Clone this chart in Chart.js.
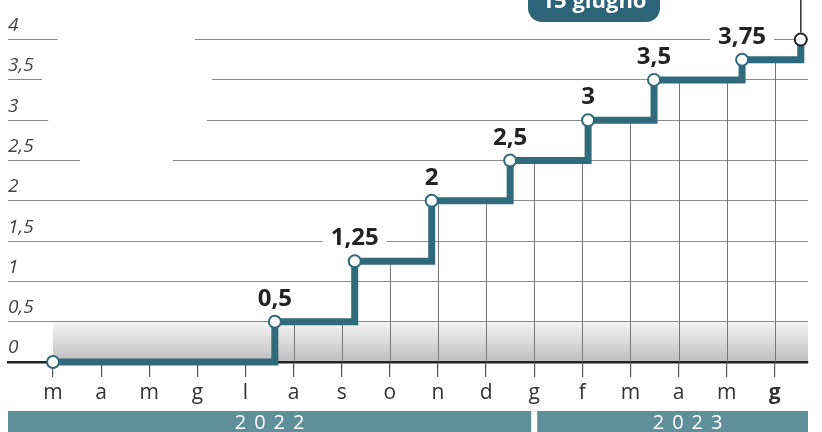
<!DOCTYPE html>
<html>
<head>
<meta charset="utf-8">
<script src="https://cdn.jsdelivr.net/npm/chart.js@4.4.0/dist/chart.umd.min.js"></script>
<style>
    html, body { margin: 0; padding: 0; background: #fff; }
    #wrap { width: 822px; height: 432px; }
</style>
</head>
<body>
<div id="wrap"><canvas id="chart" width="822" height="432"></canvas></div>
<script>
// Mesi sull'asse x: da marzo 2022 a giugno 2023
const monthLabels = ['m', 'a', 'm', 'g', 'l', 'a', 's', 'o', 'n', 'd', 'g', 'f', 'm', 'a', 'm', 'g'];
// Data di ogni decisione, in mesi dall'inizio di marzo 2022
const decisionMonths = [0, 4.61, 6.27, 7.87, 9.50, 11.12, 12.49, 14.32, 15.54];
const rates = [0, 0.5, 1.25, 2, 2.5, 3, 3.5, 3.75, 4];
const rateLabels = ['', '0,5', '1,25', '2', '2,5', '3', '3,5', '3,75', ''];
const yTicks = [0, 0.5, 1, 1.5, 2, 2.5, 3, 3.5, 4];
const yTickLabels = ['0', '0,5', '1', '1,5', '2', '2,5', '3', '3,5', '4'];
const years = ['2022', '2023'];
const badgeText = '15 giugno';

const TEAL = '#2f6a7d';

// Tratti bianchi che interrompono la griglia in alto a sinistra (valore, da mese, a mese)
const gridGaps = [[4, 0.10, 2.95], [3.5, -0.23, 3.30], [3, -0.10, 3.20], [2.5, 0.56, 2.49]];

// Valore del tasso in vigore a un certo mese
function rateAt(month) {
    let v = 0;
    decisionMonths.forEach((m, i) => { if (m <= month) v = rates[i]; });
    return v;
}

const decorPlugin = {
    id: 'decor',
    beforeDraw(chart) {
        const { ctx, chartArea, scales: { x, y } } = chart;
        ctx.save();
        ctx.fillStyle = '#fff';
        ctx.fillRect(0, 0, chart.width, chart.height);
        // fascia grigia sfumata tra 0 e 0,5
        const top = y.getPixelForValue(0.5);
        const bottom = y.getPixelForValue(0);
        const left = x.getPixelForValue(decisionMonths[0]);
        const grad = ctx.createLinearGradient(0, top, 0, bottom);
        grad.addColorStop(0, 'rgba(0,0,0,0.04)');
        grad.addColorStop(1, 'rgba(0,0,0,0.26)');
        ctx.fillStyle = grad;
        ctx.fillRect(left, top, chartArea.right - left, bottom - top);
        ctx.restore();
    },
    beforeDatasetsDraw(chart) {
        const { ctx, scales: { x, y } } = chart;
        ctx.save();
        // interruzioni della griglia
        ctx.fillStyle = '#fff';
        gridGaps.forEach(([v, a, b]) => {
            const py = y.getPixelForValue(v);
            const xa = x.getPixelForValue(a), xb = x.getPixelForValue(b);
            ctx.fillRect(xa, py - 2, xb - xa, 4);
        });
        // griglia verticale solo sotto la linea a gradini
        ctx.strokeStyle = '#777';
        ctx.lineWidth = 1;
        monthLabels.forEach((_, i) => {
            const v = rateAt(i);
            if (v <= 0) return;
            const px = Math.round(x.getPixelForValue(i)) + 0.5;
            ctx.beginPath();
            ctx.moveTo(px, y.getPixelForValue(0));
            ctx.lineTo(px, y.getPixelForValue(v));
            ctx.stroke();
        });
        ctx.restore();
    },
    afterDatasetsDraw(chart) {
        const { ctx } = chart;
        const meta = chart.getDatasetMeta(0);
        ctx.save();
        ctx.font = 'bold 24px "Open Sans"';
        ctx.textAlign = 'center';
        ctx.textBaseline = 'alphabetic';
        meta.data.forEach((pt, i) => {
            const t = rateLabels[i];
            if (!t) return;
            const w = ctx.measureText(t).width;
            const base = pt.y - 16;
            ctx.fillStyle = '#fff';
            ctx.fillRect(pt.x - w / 2 - 8, base - 20, w + 16, 22);
            ctx.fillStyle = '#222';
            ctx.fillText(t, pt.x, base);
        });
        ctx.restore();
    },
    afterDraw(chart) {
        const { ctx, chartArea, scales: { x } } = chart;
        const meta = chart.getDatasetMeta(0);
        const last = meta.data[meta.data.length - 1];
        ctx.save();
        // linea verso l'etichetta della data
        ctx.strokeStyle = '#333';
        ctx.lineWidth = 1.5;
        ctx.beginPath();
        ctx.moveTo(last.x, last.y - 7);
        ctx.lineTo(last.x, 0);
        ctx.stroke();
        // etichetta "15 giugno"
        ctx.fillStyle = '#2d6477';
        ctx.beginPath();
        ctx.roundRect(528, -14, 132, 36, 14);
        ctx.fill();
        ctx.fillStyle = '#fff';
        ctx.font = 'bold 22px "Open Sans"';
        ctx.textAlign = 'center';
        ctx.textBaseline = 'alphabetic';
        ctx.fillText(badgeText, 594, 8);
        // fasce degli anni
        const split = x.getPixelForValue(10);
        const bands = [[chartArea.left, split - 3], [split + 3, chartArea.right]];
        ctx.font = '20px "Open Sans"';
        ctx.letterSpacing = '8px';
        bands.forEach(([a, b], i) => {
            ctx.fillStyle = '#5f8f99';
            ctx.fillRect(a, 411, b - a, 25);
            ctx.fillStyle = '#fff';
            const cx = i === 0 ? (a + b) / 2 : (a + b) / 2 + 15;
            ctx.fillText(years[i], cx + 4, 429);
        });
        ctx.restore();
    }
};

const ctx = document.getElementById('chart').getContext('2d');
new Chart(ctx, {
    type: 'line',
    data: {
        datasets: [{
            data: decisionMonths.map((m, i) => ({ x: m, y: rates[i] })),
            stepped: 'before',
            borderColor: TEAL,
            borderWidth: 7,
            borderJoinStyle: 'miter',
            fill: false,
            pointRadius: 6,
            pointBorderWidth: 2,
            pointBackgroundColor: '#fff',
            pointBorderColor: rates.map((_, i) => i === rates.length - 1 ? '#222' : TEAL),
            clip: false
        }]
    },
    options: {
        responsive: false,
        animation: false,
        layout: { padding: { left: 0, right: 14, top: 2, bottom: 0 } },
        plugins: {
            legend: { display: false },
            tooltip: { enabled: false }
        },
        scales: {
            x: {
                type: 'linear',
                min: -0.935,
                max: 15.69,
                afterBuildTicks: (axis) => { axis.ticks = monthLabels.map((_, i) => ({ value: i })); },
                afterFit: (axis) => { axis.height = 70; },
                grid: { drawOnChartArea: false, tickLength: 15, color: '#555', lineWidth: 1.2 },
                border: { color: '#222', width: 2.5 },
                ticks: {
                    autoSkip: false,
                    maxRotation: 0,
                    padding: 3,
                    color: '#333',
                    callback: (v, i) => monthLabels[i],
                    font: (c) => ({
                        family: '"Open Sans"',
                        size: 21,
                        weight: c.index === monthLabels.length - 1 ? 'bold' : 'normal'
                    })
                }
            },
            y: {
                min: 0,
                max: 4.35,
                afterBuildTicks: (axis) => { axis.ticks = yTicks.map(v => ({ value: v })); },
                afterFit: (axis) => { axis.width = 8; },
                grid: { drawTicks: false, color: '#8a8a8a', lineWidth: 1 },
                border: { display: false },
                ticks: {
                    mirror: true,
                    padding: 0,
                    labelOffset: -14,
                    color: '#444',
                    font: { family: '"Open Sans"', size: 19, style: 'italic' },
                    callback: (v, i) => yTickLabels[i]
                }
            }
        }
    },
    plugins: [decorPlugin]
});
</script>
</body>
</html>
